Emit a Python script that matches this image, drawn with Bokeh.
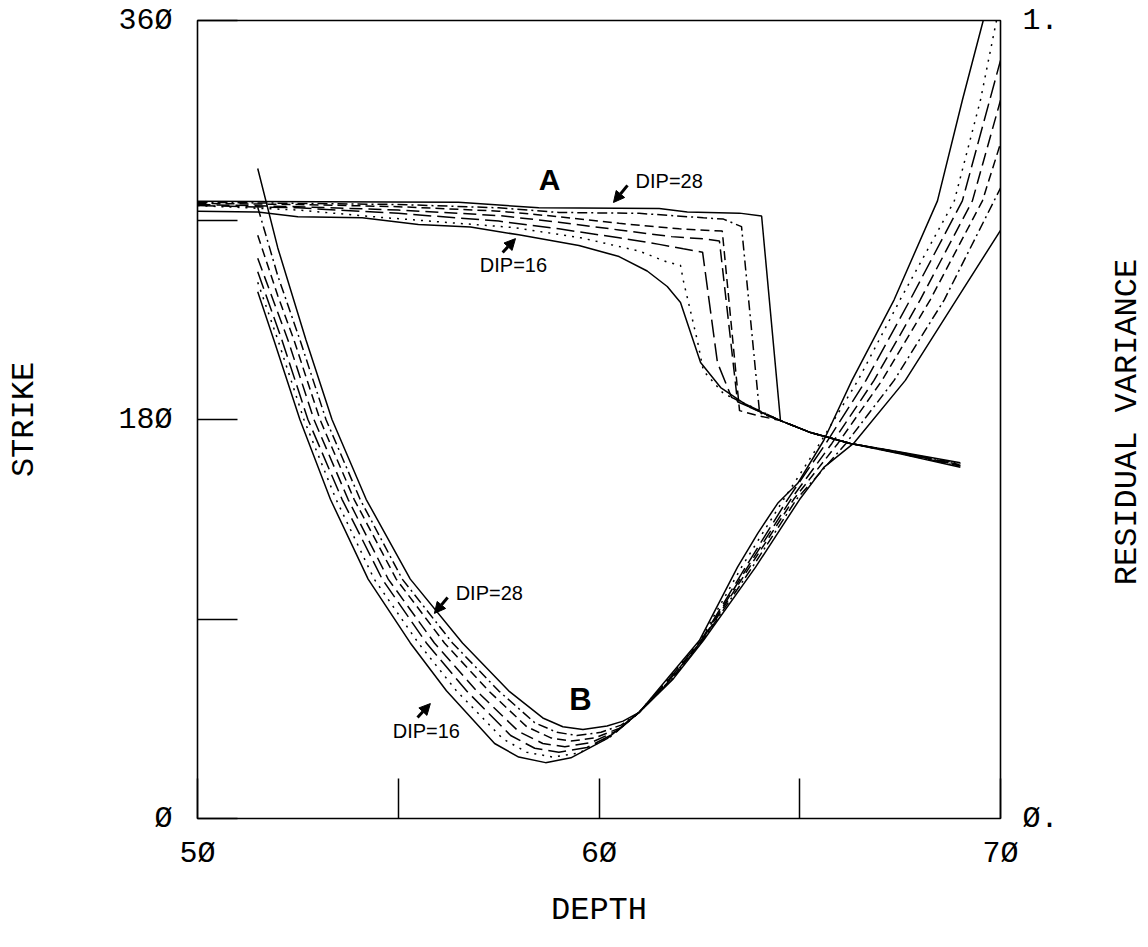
import math
from bokeh.plotting import figure
from bokeh.layouts import row
from bokeh.core.properties import value
from bokeh.models import Range1d, LinearAxis, FixedTicker, Label, Arrow, NormalHead
from bokeh.embed import file_html
from bokeh.resources import INLINE

# ---------------- data ----------------
DIPS = [16, 18, 20, 22, 24, 26, 28]

# Curve set A : STRIKE (left axis) versus DEPTH
A16_depth = [50, 51.5, 52.5, 54.1, 55.5, 56.8, 58.0, 59.5, 60.5, 61.2, 61.7, 62.03, 62.53, 63.03, 63.77, 64.52, 65.27, 66.26, 67.5, 69.0]
A16_strike = [274, 273.6, 271.5, 271, 268, 266.8, 263.3, 258.5, 253.5, 247, 240, 232.8, 205.7, 194.4, 185.4, 179.5, 174.1, 169.2, 164.5, 158.5]
A18_depth = [50, 52.5, 54.56, 57.87, 59.54, 61.0, 61.7, 62.03, 62.1, 62.45, 62.6, 63.1, 63.8, 64.52, 65.27, 66.26, 67.5, 69.0]
A18_strike = [276.5, 274.5, 271.2, 266.6, 262, 256, 251, 249.5, 242.7, 215.6, 202, 191.7, 185.8, 179.5, 174.1, 169.2, 164.7, 158.8]
A20_depth = [50, 52.5, 55, 57.5, 59.0, 60.5, 61.5, 62.1, 62.58, 62.95, 63.3, 64.52, 65.27, 66.26, 67.5, 69.0]
A20_strike = [276.5, 275.5, 273, 269.5, 266, 262, 259, 257, 255.5, 205.7, 190, 179.5, 174.1, 169.2, 164.8, 159]
A22_depth = [50, 52.5, 55, 57.5, 59.0, 60.5, 61.8, 62.6, 63.0, 63.45, 64.52, 65.27, 66.26, 67.5, 69.0]
A22_strike = [277, 276, 274.5, 272, 269, 265.5, 262.5, 261.5, 260.5, 188, 179.5, 174.1, 169.2, 165, 159.3]
A24_depth = [50, 52.5, 55, 57.5, 59, 60.5, 62.0, 63.07, 63.5, 63.9, 64.52, 65.27, 66.26, 67.5, 69.0]
A24_strike = [277.5, 277, 276, 274, 271.5, 268.5, 266, 265, 184, 182, 179.5, 174.1, 169.2, 165.1, 159.6]
A26_depth = [50, 52.5, 55, 57.5, 59, 61.0, 62.6, 63.1, 63.55, 64.0, 64.52, 65.27, 66.26, 67.5, 69.0]
A26_strike = [278, 277.5, 277, 275.5, 273.4, 273, 271, 270.4, 267, 183, 179.5, 174.1, 169.2, 165.2, 160]
A28_depth = [50, 56.5, 58.5, 61.5, 62.2, 63.5, 64.05, 64.52, 65.27, 66.26, 67.5, 69.0]
A28_strike = [278.5, 278, 275.5, 275.2, 273.6, 273.1, 271.8, 179.5, 174.1, 169.2, 165.3, 160.5]

# Curve set B : RESIDUAL VARIANCE (right axis) versus DEPTH
B16_depth = [51.5, 51.9, 52.55, 53.31, 54.25, 55.3, 56.2, 57.4, 58.0, 58.67, 59.3, 60.2, 61.0, 61.7, 62.5, 63.45, 63.95, 64.45, 64.95, 65.6, 66.3, 67.35, 68.43, 69.05, 69.57]
B16_var = [0.66, 0.60, 0.50, 0.40, 0.30, 0.22, 0.16, 0.094, 0.077, 0.070, 0.076, 0.100, 0.133, 0.175, 0.223, 0.315, 0.357, 0.395, 0.42, 0.474, 0.549, 0.65, 0.774, 0.90, 1.0]
B18_depth = [51.5, 52.0, 52.65, 53.45, 54.4, 55.5, 56.45, 57.6, 58.2, 58.85, 59.5, 60.3, 61.0, 61.72, 62.52, 63.55, 64.6, 65.5, 66.45, 67.5, 68.85, 69.5, 69.9]
B18_var = [0.672, 0.60, 0.50, 0.40, 0.30, 0.22, 0.16, 0.10, 0.083, 0.077, 0.082, 0.103, 0.133, 0.175, 0.223, 0.315, 0.40, 0.47, 0.549, 0.65, 0.774, 0.90, 1.0]
B20_depth = [51.5, 52.1, 52.75, 53.6, 54.6, 55.7, 56.7, 57.8, 58.4, 59.0, 59.7, 60.4, 61.0, 61.75, 62.54, 63.65, 64.7, 65.65, 66.65, 67.75, 69.05, 70.0]
B20_var = [0.685, 0.60, 0.50, 0.40, 0.30, 0.22, 0.16, 0.104, 0.088, 0.083, 0.089, 0.107, 0.133, 0.175, 0.223, 0.315, 0.40, 0.47, 0.549, 0.65, 0.774, 0.95]
B22_depth = [51.5, 52.25, 52.9, 53.75, 54.75, 55.9, 56.95, 58.0, 58.6, 59.15, 59.8, 60.45, 61.0, 61.78, 62.56, 63.7, 64.78, 65.8, 66.85, 68.0, 69.3, 70.0]
B22_var = [0.702, 0.60, 0.50, 0.40, 0.30, 0.22, 0.16, 0.109, 0.094, 0.09, 0.095, 0.11, 0.133, 0.175, 0.223, 0.315, 0.40, 0.47, 0.549, 0.65, 0.774, 0.90]
B24_depth = [51.5, 52.0, 52.4, 53.05, 53.9, 54.95, 56.15, 57.25, 58.2, 58.8, 59.3, 59.9, 60.5, 61.0, 61.8, 62.57, 63.75, 64.85, 65.95, 67.05, 68.25, 69.55, 70.0]
B24_var = [0.731, 0.655, 0.60, 0.50, 0.40, 0.30, 0.22, 0.16, 0.115, 0.101, 0.097, 0.101, 0.113, 0.133, 0.175, 0.223, 0.315, 0.40, 0.47, 0.549, 0.65, 0.774, 0.846]
B26_depth = [51.5, 52.0, 52.55, 53.2, 54.05, 55.1, 56.35, 57.5, 58.4, 58.95, 59.45, 60.05, 60.55, 61.0, 61.82, 62.58, 63.82, 64.92, 66.15, 67.35, 68.6, 70.0]
B26_var = [0.766, 0.68, 0.60, 0.50, 0.40, 0.30, 0.22, 0.16, 0.12, 0.108, 0.104, 0.108, 0.117, 0.133, 0.175, 0.223, 0.315, 0.40, 0.47, 0.549, 0.65, 0.79]
B28_depth = [51.5, 52.0, 52.7, 53.35, 54.2, 55.3, 56.6, 57.75, 58.6, 59.1, 59.6, 60.2, 60.6, 61.0, 61.85, 62.6, 63.9, 65.0, 65.6, 66.34, 67.63, 68.9, 70.0]
B28_var = [0.8145, 0.715, 0.60, 0.50, 0.40, 0.30, 0.22, 0.16, 0.126, 0.115, 0.1115, 0.116, 0.122, 0.133, 0.175, 0.223, 0.315, 0.40, 0.44, 0.47, 0.549, 0.65, 0.737]

# Axis ticks and labels
X_TICKS = [50, 55, 60, 65, 70]
X_LABELS = {50: "5Ø", 55: "", 60: "6Ø", 65: "", 70: "7Ø"}
Y_TICKS = [0, 90, 180, 270, 360]
Y_LABELS = {0: "Ø", 90: "", 180: "18Ø", 270: "", 360: "36Ø"}
V_TICKS = [0, 1]
V_LABELS = {0: "Ø.", 1: "1."}
RIGHT_TITLE = "RESIDUAL VARIANCE"

# annotation texts (depth, value, axis)
A_TEXT = ("A", 58.77, 288.3)
B_TEXT = ("B", 59.54, 0.149)
DIP_TEXTS = [("DIP=28", 60.91, 287.8, "left", "default"),
             ("DIP=16", 57.87, 249.5, "center", "default"),
             ("DIP=28", 56.43, 0.283, "left", "var"),
             ("DIP=16", 55.70, 0.110, "center", "var")]
DIP_ARROWS = [(60.71, 285.6, 60.36, 277.9, "default"),
              (57.60, 255.3, 57.92, 261.6, "default"),
              (56.23, 0.277, 55.90, 0.257, "var"),
              (55.48, 0.1266, 55.80, 0.144, "var")]

# ---------------- styling ----------------
DASHES = {16: "solid", 18: "2 6", 20: "18 6", 22: "13 6", 24: "9 5", 26: "10 4 2 4", 28: "solid"}
TICK_FONT = "Liberation Mono"
H = 944

p = figure(width=1108, height=H, x_range=Range1d(50, 70), y_range=Range1d(0, 360),
           output_backend="svg", toolbar_location=None,
           min_border_left=197, min_border_right=108, min_border_top=20, min_border_bottom=126)
p.extra_y_ranges = {"var": Range1d(0, 1)}
p.background_fill_color = "white"
p.border_fill_color = "white"
p.outline_line_color = "black"
p.outline_line_width = 1.6
p.outline_line_alpha = 1
p.xgrid.visible = False
p.ygrid.visible = False

rax = LinearAxis(y_range_name="var")
p.add_layout(rax, "right")

xax = p.xaxis[0]
yax = p.yaxis[0]
xax.ticker = FixedTicker(ticks=X_TICKS)
xax.major_label_overrides = X_LABELS
yax.ticker = FixedTicker(ticks=Y_TICKS)
yax.major_label_overrides = Y_LABELS
rax.ticker = FixedTicker(ticks=V_TICKS)
rax.major_label_overrides = V_LABELS

for ax in (xax, yax, rax):
    ax.axis_line_color = None
    ax.minor_tick_line_color = None
    ax.major_tick_out = 0
    ax.major_tick_in = 40
    ax.major_tick_line_color = "black"
    ax.major_tick_line_width = 1.5
    ax.major_label_text_font = TICK_FONT
    ax.major_label_text_font_size = "30px"
    ax.major_label_text_color = "black"
    ax.axis_label_text_font = TICK_FONT
    ax.axis_label_text_font_size = "32px"
    ax.axis_label_text_font_style = "normal"
    ax.axis_label_text_color = "black"
rax.major_tick_line_color = None
rax.major_label_standoff = 22
xax.major_label_standoff = 18
yax.major_label_standoff = 25
xax.axis_label = "DEPTH"
xax.axis_label_standoff = 18
yax.axis_label = "STRIKE"
yax.axis_label_standoff = 72

A_SET = [(16, A16_depth, A16_strike), (18, A18_depth, A18_strike), (20, A20_depth, A20_strike),
         (22, A22_depth, A22_strike), (24, A24_depth, A24_strike), (26, A26_depth, A26_strike),
         (28, A28_depth, A28_strike)]
B_SET = [(16, B16_depth, B16_var), (18, B18_depth, B18_var), (20, B20_depth, B20_var),
         (22, B22_depth, B22_var), (24, B24_depth, B24_var), (26, B26_depth, B26_var),
         (28, B28_depth, B28_var)]

for dip, d, s in A_SET:
    p.line(d, s, line_color="black", line_width=1.5, line_dash=DASHES[dip])
for dip, d, v in B_SET:
    p.line(d, v, line_color="black", line_width=1.5, line_dash=DASHES[dip], y_range_name="var")

# letters A and B
p.add_layout(Label(x=A_TEXT[1], y=A_TEXT[2], text=A_TEXT[0], text_font="Liberation Sans",
                   text_font_style="bold", text_font_size="30px", text_align="center",
                   text_baseline="middle", text_color="black"))
p.add_layout(Label(x=B_TEXT[1], y=B_TEXT[2], text=B_TEXT[0], y_range_name="var",
                   text_font="Liberation Sans", text_font_style="bold", text_font_size="31px",
                   text_align="center", text_baseline="middle", text_color="black"))
for txt, x, y, align, rng in DIP_TEXTS:
    p.add_layout(Label(x=x, y=y, text=txt, y_range_name=rng, text_font="Liberation Sans",
                       text_font_size="20px", text_align=align, text_baseline="middle",
                       text_color="black"))
for x0, y0, x1, y1, rng in DIP_ARROWS:
    p.add_layout(Arrow(x_start=x0, y_start=y0, x_end=x1, y_end=y1, y_range_name=rng,
                       line_width=3, line_color="black",
                       end=NormalHead(size=11, fill_color="black", line_color="black")))

# narrow side strip holding the right-hand title (reads bottom to top)
p2 = figure(width=38, height=H, x_range=Range1d(0, 1), y_range=Range1d(0, H),
            output_backend="svg", toolbar_location=None,
            x_axis_type=None, y_axis_type=None,
            min_border_left=0, min_border_right=0, min_border_top=0, min_border_bottom=0)
p2.outline_line_color = None
p2.background_fill_color = "white"
p2.border_fill_color = "white"
p2.xgrid.visible = False
p2.ygrid.visible = False
p2.text(x=[0.5], y=[469], text=[RIGHT_TITLE], angle=math.pi / 2,
        text_align="center", text_baseline="middle", text_color="black",
        text_font=value(TICK_FONT), text_font_size="32px")

layout = row(p, p2)
open("out.html", "w").write(file_html(layout, INLINE))
